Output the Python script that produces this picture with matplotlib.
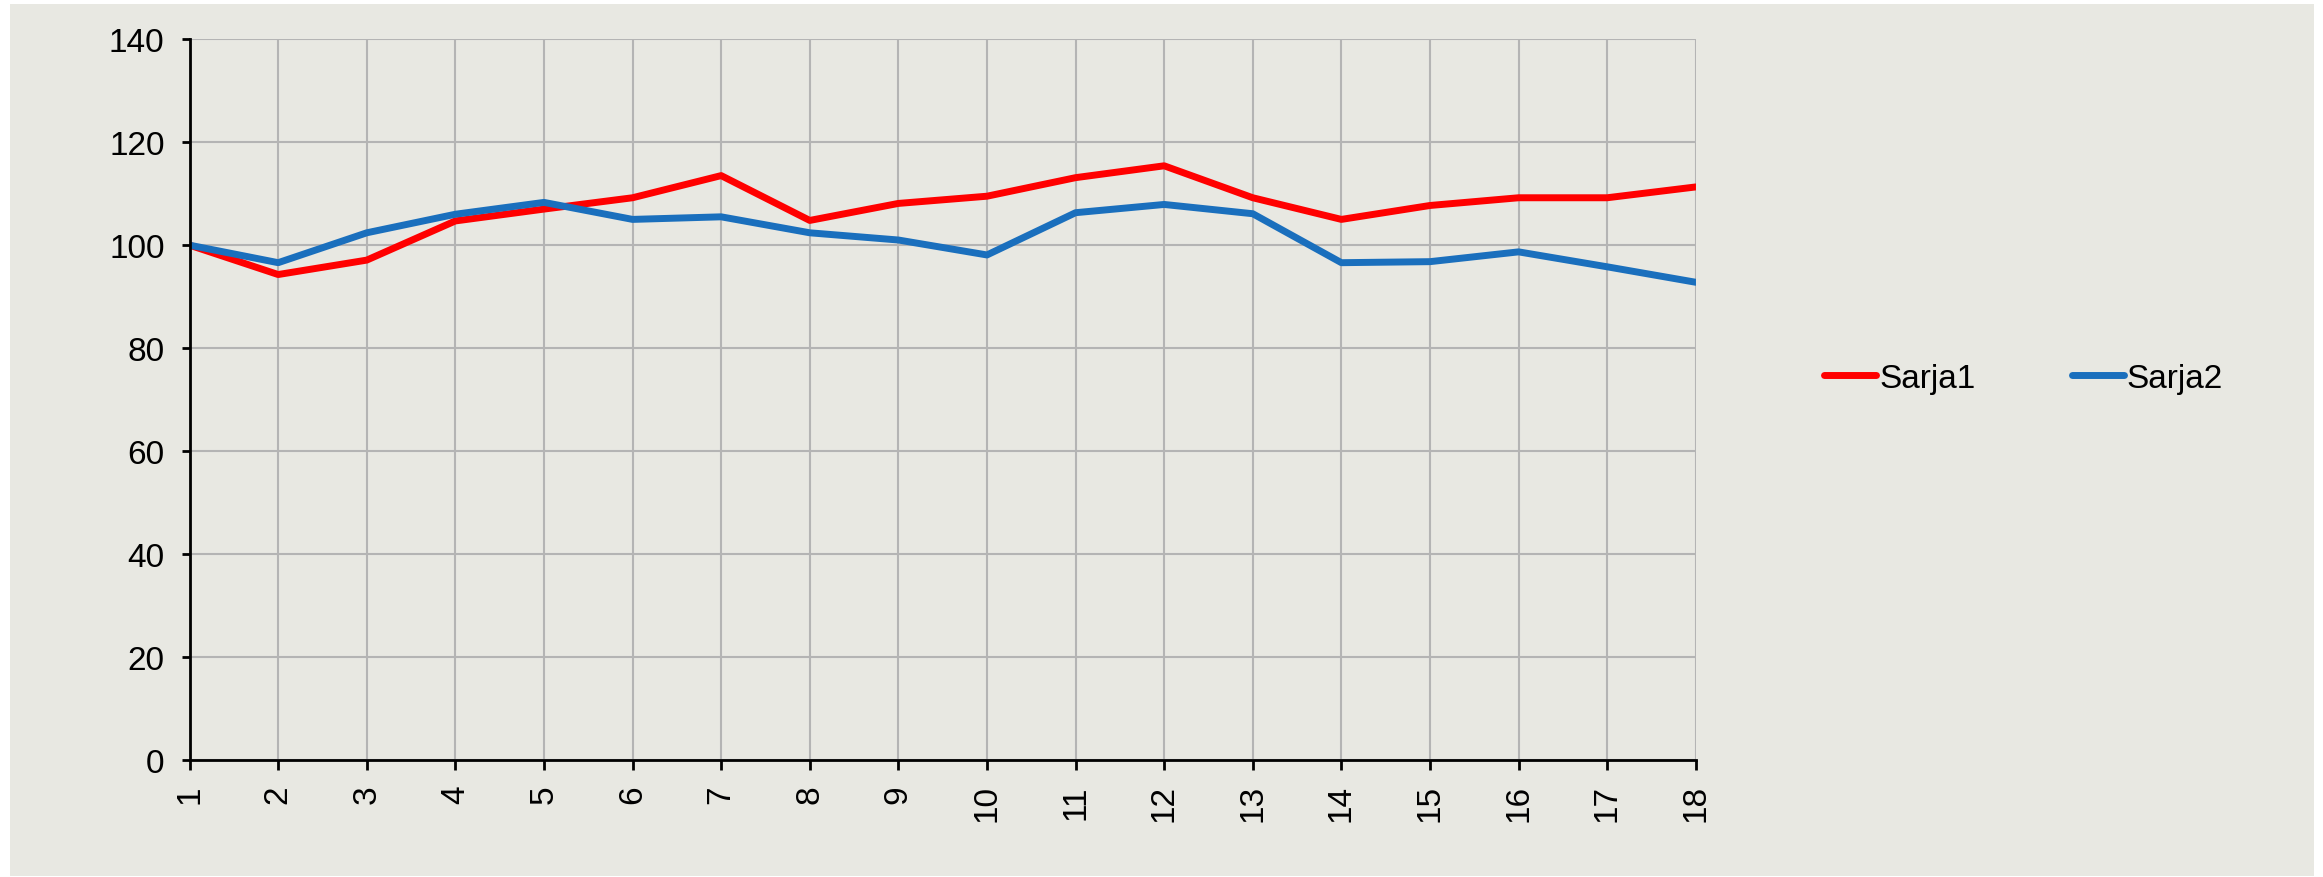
import matplotlib
matplotlib.use("Agg")
import matplotlib.pyplot as plt
from matplotlib.patches import Rectangle

"""
index series, read off the reference chart
"""

periods = list(range(1, 19))
sarja1 = [100, 94.3, 97.1, 104.7, 107.0, 109.2, 113.5, 104.8, 108.1, 109.5,
          113.1, 115.4, 109.2, 105.0, 107.7, 109.2, 109.2, 111.3]
sarja2 = [100, 96.6, 102.4, 106.0, 108.3, 105.0, 105.5, 102.4, 101.0, 98.1,
          106.3, 107.9, 106.1, 96.6, 96.8, 98.7, 95.8, 92.8]
series_names = ["Sarja1", "Sarja2"]
y_ticks = [0, 20, 40, 60, 80, 100, 120, 140]

bg = "#e8e8e2"
grid_col = "#b4b4b4"

plt.rcParams["font.family"] = ["Liberation Sans", "DejaVu Sans"]

fig = plt.figure(figsize=(23.23, 8.78), dpi=100, facecolor="white")
# grey chart area behind everything
fig.add_artist(Rectangle((10 / 2323, 1 / 878), 2304 / 2323, 872 / 878,
                         transform=fig.transFigure, facecolor=bg,
                         edgecolor="none", zorder=-10))

ax = fig.add_axes([0.0816, 0.1327, 0.6484, 0.8217])
ax.set_facecolor(bg)

ax.plot(periods, sarja1, color="#ff0000", lw=5, label=series_names[0],
        solid_capstyle="round", zorder=3)
ax.plot(periods, sarja2, color="#1a6fbd", lw=5, label=series_names[1],
        solid_capstyle="round", zorder=3)

ax.set_xlim(1, 18)
ax.set_ylim(0, 140)
ax.set_xticks(periods)
ax.set_xticklabels([str(p) for p in periods], rotation=90)
ax.set_yticks(y_ticks)

ax.grid(True, color=grid_col, lw=1.5)
ax.set_axisbelow(True)

for side in ["top", "right"]:
    ax.spines[side].set_visible(False)
for side in ["left", "bottom"]:
    ax.spines[side].set_linewidth(2.0)
    ax.spines[side].set_color("black")
    ax.spines[side].set_zorder(4)

ax.tick_params(axis="y", length=6, width=2, labelsize=24, pad=12)
ax.tick_params(axis="x", length=7, width=2, labelsize=24, pad=10)

leg = fig.legend(loc="center left", bbox_to_anchor=(0.778, 0.568), ncol=2,
                 frameon=False, fontsize=24, handlelength=1.55,
                 handletextpad=0.1, columnspacing=2.9, borderpad=0)

fig.savefig("out.png", dpi=100, facecolor=fig.get_facecolor())
